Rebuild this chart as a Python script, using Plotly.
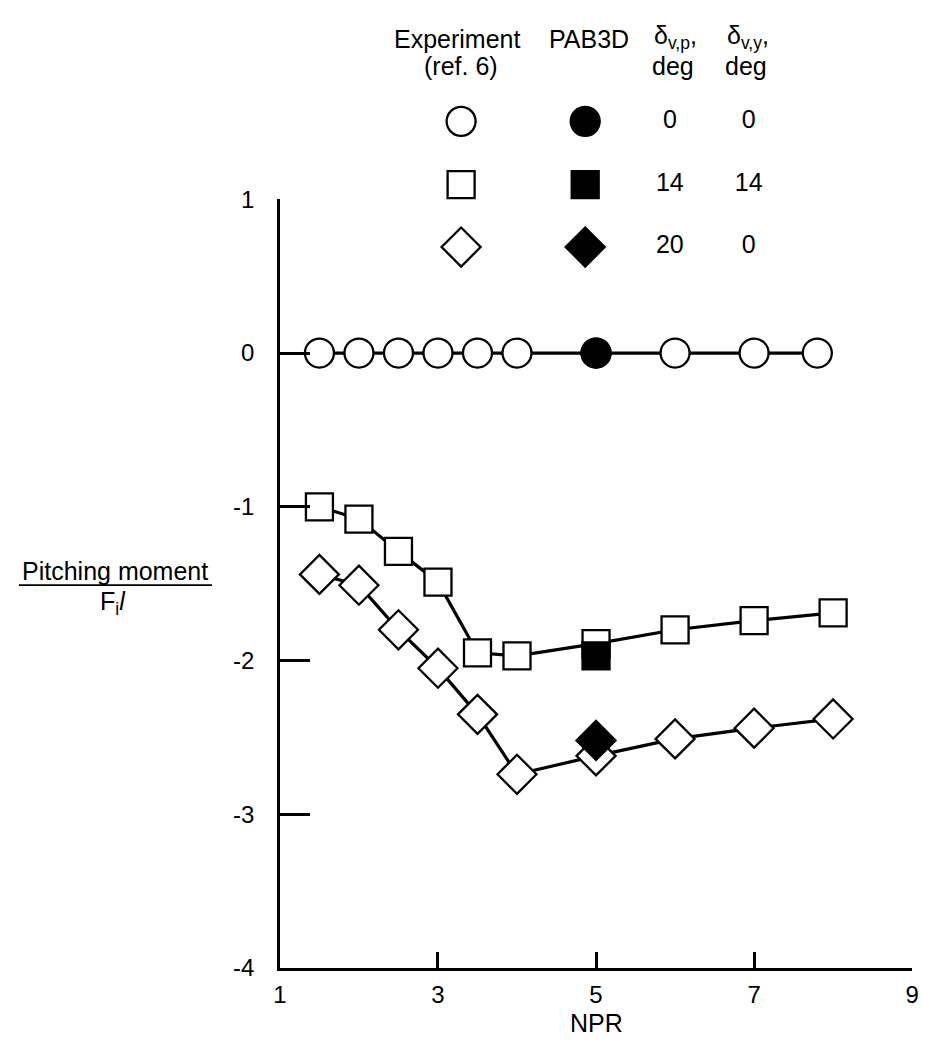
import plotly.graph_objects as go

# ---- data ----
npr_circle_exp = [1.5, 2.0, 2.5, 3.0, 3.5, 4.0, 5.0, 6.0, 7.0, 7.8]
cm_circle_exp = [0, 0, 0, 0, 0, 0, 0, 0, 0, 0]

npr_square_exp = [1.5, 2.0, 2.5, 3.0, 3.5, 4.0, 5.0, 6.0, 7.0, 8.0]
cm_square_exp = [-1.00, -1.08, -1.29, -1.49, -1.95, -1.97, -1.89, -1.80, -1.74, -1.69]

npr_diamond_exp = [1.5, 2.0, 2.5, 3.0, 3.5, 4.0, 5.0, 6.0, 7.0, 8.0]
cm_diamond_exp = [-1.44, -1.51, -1.80, -2.05, -2.35, -2.74, -2.62, -2.51, -2.44, -2.38]

npr_pab3d = [5.0, 5.0, 5.0]
cm_pab3d = [0.0, -1.97, -2.52]
pab3d_symbols = ["circle", "square", "diamond"]

legend_dvp = ["0", "14", "20"]
legend_dvy = ["0", "14", "0"]

x_ticks = [1, 3, 5, 7, 9]
y_ticks = [1, 0, -1, -2, -3, -4]

FONT = "Liberation Sans, Arial, Helvetica, sans-serif"
FS_TEXT = 25
FS_TICK = 24

PAGE_W, PAGE_H = 929, 1057
OFF = 8                      # default body margin of the html page
W, H = PAGE_W - OFF, PAGE_H - OFF
# plot area in page pixels
X0, X1 = 277, 919
Y_TOP, Y_BOT = 190, 979

sizes = {"circle": 29, "square": 27, "diamond": 30}
open_marker = dict(color="white", opacity=1, line=dict(color="black", width=2.3))
filled_marker = dict(color="black", opacity=1, line=dict(color="black", width=2.3))

fig = go.Figure()

for xs, ys, sym in [
    (npr_circle_exp, cm_circle_exp, "circle"),
    (npr_square_exp, cm_square_exp, "square"),
    (npr_diamond_exp, cm_diamond_exp, "diamond"),
]:
    fig.add_trace(go.Scatter(
        x=xs, y=ys, mode="lines+markers",
        line=dict(color="black", width=3.2),
        marker=dict(symbol=sym, size=sizes[sym], **open_marker),
        showlegend=False, cliponaxis=False,
    ))

fig.add_trace(go.Scatter(
    x=npr_pab3d, y=cm_pab3d, mode="markers",
    marker=dict(symbol=pab3d_symbols, size=[sizes[s] for s in pab3d_symbols], **filled_marker),
    showlegend=False, cliponaxis=False,
))

# ---- legend key drawn on an overlay axis that spans the page in page pixels ----
leg_rows_y = [110, 175, 239]
leg_exp_x = 461
leg_pab_x = 587
fig.add_trace(go.Scatter(
    x=[leg_exp_x] * 3, y=leg_rows_y, mode="markers",
    marker=dict(symbol=pab3d_symbols, size=[sizes[s] for s in pab3d_symbols], **open_marker),
    xaxis="x2", yaxis="y2", showlegend=False, cliponaxis=False,
))
fig.add_trace(go.Scatter(
    x=[leg_pab_x] * 3, y=leg_rows_y, mode="markers",
    marker=dict(symbol=pab3d_symbols, size=[sizes[s] for s in pab3d_symbols], **filled_marker),
    xaxis="x2", yaxis="y2", showlegend=False, cliponaxis=False,
))
fig.add_trace(go.Scatter(
    x=[673] * 3, y=leg_rows_y, mode="text", text=legend_dvp,
    textfont=dict(family=FONT, size=FS_TEXT, color="black"),
    xaxis="x2", yaxis="y2", showlegend=False, cliponaxis=False,
))
fig.add_trace(go.Scatter(
    x=[753] * 3, y=leg_rows_y, mode="text", text=legend_dvy,
    textfont=dict(family=FONT, size=FS_TEXT, color="black"),
    xaxis="x2", yaxis="y2", showlegend=False, cliponaxis=False,
))

annotations = []
def ann(text, x, y, size=FS_TEXT):
    annotations.append(dict(text=text, x=x, y=y, xref="x2", yref="y2",
                            showarrow=False, xanchor="center", yanchor="middle",
                            font=dict(family=FONT, size=size, color="black")))

ann("Experiment", 457, 25)
ann("(ref. 6)", 461, 53)
ann("PAB3D", 591, 25)
ann("δ<sub>v,p</sub>,", 679, 23)
ann("deg", 676, 53)
ann("δ<sub>v,y</sub>,", 752, 23)
ann("deg", 750, 53)
ann("Pitching moment", 110, 571)
ann("F<sub>i</sub><i>l</i>", 108, 604)
ann("NPR", 598, 1035)

fig.add_shape(type="line", xref="x2", yref="y2",
              x0=12, x1=208, y0=586, y1=586,
              line=dict(color="black", width=1.6))

fig.update_layout(
    width=W, height=H,
    margin=dict(l=0, r=0, t=0, b=0, pad=0),
    paper_bgcolor="white", plot_bgcolor="rgba(0,0,0,0)",
    font=dict(family=FONT, size=FS_TICK, color="black"),
    annotations=annotations,
    xaxis=dict(
        domain=[(X0 - OFF) / W, (X1 - OFF) / W],
        range=[1, 9], tickvals=x_ticks, ticktext=[str(v) for v in x_ticks],
        showgrid=False, zeroline=False, showline=True, linecolor="black", linewidth=2.6,
        ticks="inside", ticklen=16, tickwidth=2.6, tickcolor="black",
        tickfont=dict(family=FONT, size=FS_TICK), ticklabelstandoff=3,
        anchor="y",
    ),
    yaxis=dict(
        domain=[(PAGE_H - Y_BOT) / H, (PAGE_H - Y_TOP) / H],
        range=[-4, 1], tickvals=y_ticks, ticktext=[str(v) for v in y_ticks],
        showgrid=False, zeroline=False, showline=True, linecolor="black", linewidth=2.6,
        ticks="inside", ticklen=30, tickwidth=2.6, tickcolor="black",
        tickfont=dict(family=FONT, size=FS_TICK), ticklabelstandoff=18,
        anchor="x",
    ),
    xaxis2=dict(domain=[0, 1], range=[OFF, PAGE_W], anchor="y2", visible=False,
                showgrid=False, zeroline=False, fixedrange=True),
    yaxis2=dict(domain=[0, 1], range=[PAGE_H, OFF], anchor="x2", visible=False,
                showgrid=False, zeroline=False, fixedrange=True),
)

fig.write_html("out.html")
